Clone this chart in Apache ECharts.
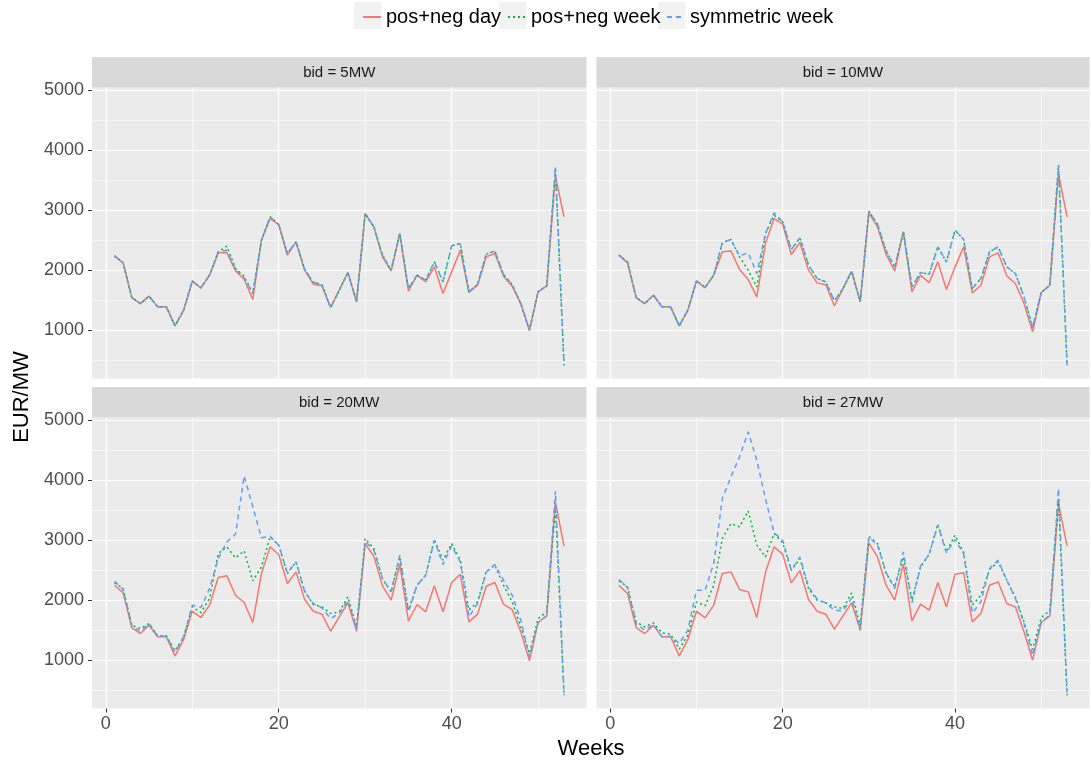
<!DOCTYPE html>
<html>
<head>
<meta charset="utf-8">
<script src="https://cdn.jsdelivr.net/npm/echarts@6/dist/echarts.min.js"></script>
<style>
  html, body { margin: 0; padding: 0; background: #fff; }
  #chart { width: 1091px; height: 765px; }
</style>
</head>
<body>
<div id="chart"></div>
<script>
// weeks of the year
const WEEKS = Array.from({ length: 53 }, (_, i) => i + 1);
const SERIES_NAMES = ['pos+neg day', 'pos+neg week', 'symmetric week'];
const PANEL_LABELS = ['bid = 5MW', 'bid = 10MW', 'bid = 20MW', 'bid = 27MW'];
const X_TICKS = [0, 20, 40];
const Y_TICKS = [1000, 2000, 3000, 4000, 5000];

// bid = 5MW
const DAY_5 = [2240,2122,1544,1444,1567,1389,1389,1072,1333,1817,1706,1917,2289,2294,1989,1850,1511,2500,2861,2761,2250,2472,2000,1767,1739,1378,1667,1961,1472,2944,2722,2222,1989,2611,1650,1917,1806,2056,1611,1972,2333,1630,1750,2222,2278,1900,1733,1444,1000,1639,1739,3570,2889];
const WEEK_5 = [2240,2122,1544,1444,1567,1389,1389,1072,1333,1817,1706,1917,2306,2400,2030,1900,1611,2500,2889,2761,2278,2472,2011,1800,1756,1378,1667,1961,1472,2944,2722,2250,2000,2611,1694,1917,1833,2139,1806,2406,2444,1639,1767,2267,2322,1928,1761,1444,1000,1639,1739,3700,417];
const SYM_5 = [2240,2122,1544,1444,1567,1389,1389,1072,1333,1817,1706,1917,2306,2333,2011,1872,1611,2500,2889,2761,2278,2472,2011,1800,1756,1378,1667,1961,1472,2944,2722,2250,2000,2611,1694,1917,1833,2139,1806,2406,2444,1639,1767,2267,2322,1928,1761,1444,1000,1639,1739,3711,417];

// bid = 10MW
const DAY_10 = [2250,2122,1544,1444,1583,1389,1389,1072,1333,1822,1711,1917,2306,2322,2011,1844,1556,2444,2861,2767,2261,2461,2000,1789,1756,1406,1694,1983,1472,2956,2722,2267,1989,2639,1639,1917,1794,2139,1678,2056,2389,1622,1750,2222,2289,1906,1778,1444,972,1628,1750,3611,2889];
const WEEK_10 = [2250,2139,1544,1444,1583,1389,1389,1072,1333,1822,1711,1917,2461,2511,2222,2000,1722,2611,2917,2806,2344,2539,2083,1861,1806,1489,1694,1983,1472,2983,2767,2322,2056,2639,1722,1961,1933,2389,2139,2667,2511,1694,1861,2306,2389,2056,1944,1556,1044,1628,1750,3750,417];
const SYM_10 = [2250,2139,1544,1444,1583,1389,1389,1072,1333,1822,1711,1917,2461,2511,2239,2289,1944,2611,2956,2806,2344,2539,2083,1861,1806,1489,1694,1983,1472,2983,2767,2322,2056,2639,1722,1961,1933,2389,2139,2667,2511,1694,1861,2306,2389,2056,1944,1556,1044,1628,1750,3750,417];

// bid = 20MW
const DAY_20 = [2250,2122,1544,1444,1583,1389,1389,1072,1344,1817,1711,1917,2378,2406,2083,1961,1628,2444,2889,2761,2278,2472,2011,1817,1767,1483,1722,1956,1483,2944,2733,2239,2000,2600,1656,1928,1806,2239,1806,2294,2433,1639,1767,2233,2294,1933,1844,1472,989,1628,1739,3639,2900];
const WEEK_20 = [2289,2194,1583,1528,1611,1406,1406,1156,1389,1889,1794,2028,2778,2889,2706,2822,2322,2556,3056,2917,2444,2639,2150,1928,1889,1778,1806,2056,1556,3028,2861,2361,2139,2722,1833,2250,2417,3011,2667,2944,2667,1833,1972,2472,2583,2250,1972,1556,1111,1694,1806,3556,417];
const SYM_20 = [2317,2178,1583,1472,1611,1400,1400,1139,1389,1917,1878,2194,2694,2972,3100,4072,3556,3039,3067,2917,2456,2639,2139,1944,1872,1694,1778,2000,1528,2983,2833,2361,2139,2750,1806,2250,2417,3000,2594,2906,2639,1722,1944,2472,2594,2333,2083,1667,1056,1628,1739,3817,417];

// bid = 27MW
const DAY_27 = [2250,2111,1544,1444,1583,1389,1389,1072,1344,1817,1706,1917,2444,2472,2178,2139,1711,2461,2889,2767,2289,2494,2011,1817,1767,1517,1739,1956,1500,2956,2722,2250,2000,2600,1656,1933,1833,2294,1889,2433,2456,1639,1778,2250,2306,1944,1889,1472,1000,1628,1739,3611,2906];
const WEEK_27 = [2322,2222,1639,1556,1622,1456,1433,1183,1417,1972,1906,2250,3028,3278,3222,3489,2917,2722,3111,2956,2500,2694,2194,2000,1956,1889,1861,2122,1583,3067,2944,2444,2222,2722,2000,2556,2767,3267,2806,3083,2789,1917,2083,2511,2639,2333,2056,1639,1178,1711,1828,3711,417];
const SYM_27 = [2344,2211,1611,1500,1594,1389,1400,1278,1500,2167,2167,2611,3694,4056,4389,4806,4333,3694,3122,3000,2500,2722,2222,2017,1956,1833,1822,2039,1500,3056,2917,2461,2194,2806,1956,2567,2767,3250,2789,3011,2767,1789,1972,2528,2667,2333,2028,1611,1083,1639,1750,3861,417];

const PANEL_DATA = [
  [DAY_5, WEEK_5, SYM_5],
  [DAY_10, WEEK_10, SYM_10],
  [DAY_20, WEEK_20, SYM_20],
  [DAY_27, WEEK_27, SYM_27]
];

const COLORS = ['#F8766D', '#00BA38', '#619CFF'];
const LINE_TYPES = ['solid', [2, 3], [5, 4]];

const grids = [
  { left: 92, top: 87.5, width: 494.5, height: 291 },
  { left: 596.5, top: 87.5, width: 493, height: 291 },
  { left: 92, top: 417.5, width: 494.5, height: 291 },
  { left: 596.5, top: 417.5, width: 493, height: 291 }
];

const chart = echarts.init(document.getElementById('chart'));

const xAxes = grids.map((g, i) => {
  const bottom = i >= 2;
  return {
    type: 'value', gridIndex: i, position: 'bottom',
    min: -1.6, max: 55.6, splitNumber: 3,
    axisLine: { show: false, onZero: false },
    axisTick: { show: bottom, customValues: X_TICKS, length: 4, lineStyle: { color: '#333333' } },
    axisLabel: { show: bottom, customValues: X_TICKS, color: '#4D4D4D', fontSize: 18, margin: 7, fontFamily: 'Liberation Sans' },
    splitLine: { show: true, showMinLine: true, showMaxLine: true, lineStyle: { color: '#FFFFFF', width: 1.2 } },
    minorTick: { show: false, splitNumber: 2 },
    minorSplitLine: { show: true, lineStyle: { color: '#FFFFFF', width: 0.6 } }
  };
});

const yAxes = grids.map((g, i) => {
  const left = i % 2 === 0;
  return {
    type: 'value', gridIndex: i, position: 'left',
    min: 195, max: 5045, splitNumber: 5,
    axisLine: { show: false, onZero: false },
    axisTick: { show: left, customValues: Y_TICKS, length: 4, lineStyle: { color: '#333333' } },
    axisLabel: {
      show: left, customValues: Y_TICKS, color: '#4D4D4D', fontSize: 18, margin: 8,
      fontFamily: 'Liberation Sans', formatter: v => String(v)
    },
    splitLine: { show: true, showMinLine: true, showMaxLine: true, lineStyle: { color: '#FFFFFF', width: 1.2 } },
    minorTick: { show: false, splitNumber: 2 },
    minorSplitLine: { show: true, lineStyle: { color: '#FFFFFF', width: 0.6 } }
  };
});

const series = [];
PANEL_DATA.forEach((panel, p) => {
  panel.forEach((values, s) => {
    series.push({
      name: SERIES_NAMES[s],
      type: 'line',
      xAxisIndex: p, yAxisIndex: p,
      data: values.map((v, k) => [WEEKS[k], v]),
      symbol: 'none',
      silent: true,
      z: 2 + s,
      lineStyle: { color: COLORS[s], width: 1.5, type: LINE_TYPES[s] },
      itemStyle: { color: COLORS[s] }
    });
  });
});

// strips, legend key backgrounds, axis titles
const graphics = [];
grids.forEach((g, i) => {
  graphics.push({
    type: 'rect', z: 0,
    shape: { x: g.left, y: g.top - 30.5, width: g.width, height: 30.5 },
    style: { fill: '#D9D9D9' }
  });
  graphics.push({
    type: 'text', z: 1,
    x: g.left + g.width / 2, y: g.top - 15,
    style: { text: PANEL_LABELS[i], fill: '#1A1A1A', font: '15px "Liberation Sans"', align: 'center', verticalAlign: 'middle' }
  });
});
const keyLeft = [354, 499, 658];
keyLeft.forEach(x => {
  graphics.push({ type: 'rect', z: 0, shape: { x: x, y: 2, width: 27.5, height: 27 }, style: { fill: '#F2F2F2' } });
});
graphics.push({
  type: 'text', x: 591, y: 749,
  style: { text: 'Weeks', fill: '#000000', font: '22px "Liberation Sans"', align: 'center', verticalAlign: 'middle' }
});
graphics.push({
  type: 'text', x: 22, y: 397, rotation: Math.PI / 2,
  style: { text: 'EUR/MW', fill: '#000000', font: '22px "Liberation Sans"', align: 'center', verticalAlign: 'middle' }
});

const legends = SERIES_NAMES.map((name, i) => ({
  data: [name],
  left: keyLeft[i] + 3, top: 2,
  itemWidth: 18, itemHeight: 14,
  selectedMode: false,
  z: 10,
  itemStyle: { opacity: 0 },
  textStyle: { color: '#000000', fontSize: 20, fontFamily: 'Liberation Sans' }
}));

chart.setOption({
  animation: false,
  backgroundColor: '#FFFFFF',
  legend: legends,
  grid: grids.map(g => Object.assign({ show: true, backgroundColor: '#EBEBEB', borderWidth: 0 }, g)),
  xAxis: xAxes,
  yAxis: yAxes,
  graphic: graphics,
  series: series
});
</script>
</body>
</html>
